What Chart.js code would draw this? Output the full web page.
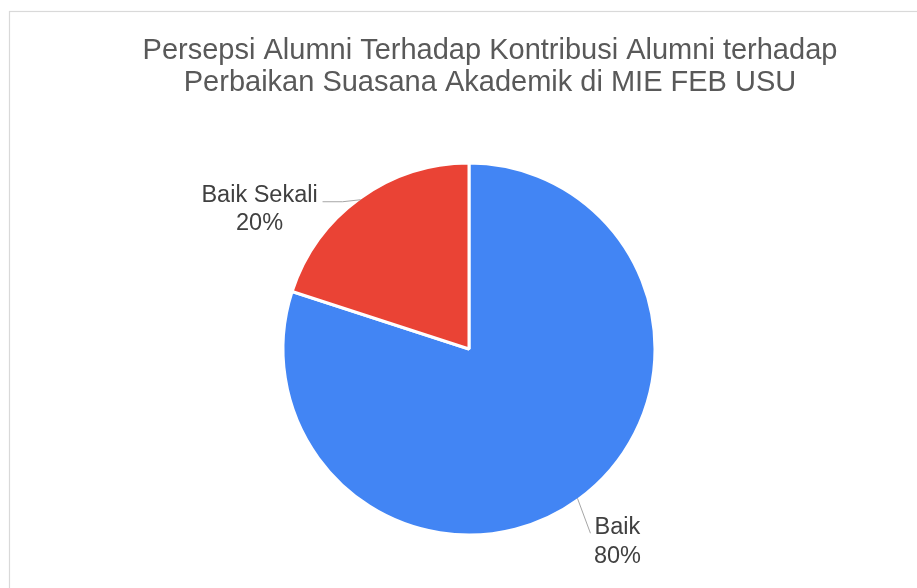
<!DOCTYPE html>
<html>
<head>
<meta charset="utf-8">
<script src="https://cdn.jsdelivr.net/npm/chart.js@4/dist/chart.umd.min.js"></script>
<style>
  html, body { margin: 0; padding: 0; background: #ffffff; }
  #wrap { width: 917px; height: 588px; position: relative; }
</style>
</head>
<body>
<div id="wrap"><canvas id="c" width="917" height="588"></canvas></div>
<script>
const titleLines = ["Persepsi Alumni Terhadap Kontribusi Alumni terhadap", "Perbaikan Suasana Akademik di MIE FEB USU"];
const categories = ["Baik", "Baik Sekali"];
const values = [80, 20];
const colors = ["#4285F4", "#EA4335"];

// label placement styles (offsets relative to the slice's outer mid-point)
const labelStyle = [
  { leader: [[13, 35]], textDx: 40, textDy: 36 },
  { leader: [[-18, 2], [-38, 2]], textDx: -101, textDy: 2 }
];

const frameAndTitle = {
  id: 'frameAndTitle',
  beforeDraw(chart) {
    const ctx = chart.ctx;
    ctx.save();
    ctx.fillStyle = '#ffffff';
    ctx.fillRect(0, 0, chart.width, chart.height);
    ctx.strokeStyle = '#d9d9d9';
    ctx.lineWidth = 1.2;
    ctx.strokeRect(9.5, 11.5, 1200, 1200);
    ctx.restore();
  },
  afterDraw(chart) {
    const ctx = chart.ctx;
    ctx.save();
    ctx.fillStyle = '#595959';
    ctx.font = '29px "Liberation Sans", Arial, sans-serif';
    ctx.textAlign = 'center';
    ctx.textBaseline = 'alphabetic';
    titleLines.forEach((t, i) => ctx.fillText(t, 490, 58.5 + i * 32.5));
    ctx.restore();
  }
};

const pieLabels = {
  id: 'pieLabels',
  afterDatasetsDraw(chart) {
    const ctx = chart.ctx;
    const meta = chart.getDatasetMeta(0);
    const data = chart.data.datasets[0].data;
    const total = data.reduce((a, b) => a + b, 0);
    ctx.save();
    meta.data.forEach((arc, i) => {
      const p = arc.getProps(['x', 'y', 'startAngle', 'endAngle', 'outerRadius'], true);
      const mid = (p.startAngle + p.endAngle) / 2;
      const r = p.outerRadius - 1.5;
      const ax = p.x + Math.cos(mid) * r;
      const ay = p.y + Math.sin(mid) * r;
      const st = labelStyle[i];
      ctx.strokeStyle = '#a6a6a6';
      ctx.lineWidth = 1;
      ctx.beginPath();
      ctx.moveTo(ax, ay);
      st.leader.forEach(([dx, dy]) => ctx.lineTo(ax + dx, ay + dy));
      ctx.stroke();
      ctx.fillStyle = '#404040';
      ctx.font = '23.5px "Liberation Sans", Arial, sans-serif';
      ctx.textAlign = 'center';
      ctx.textBaseline = 'alphabetic';
      const pct = Math.round(data[i] / total * 100) + '%';
      ctx.fillText(chart.data.labels[i], ax + st.textDx, ay + st.textDy);
      ctx.fillText(pct, ax + st.textDx, ay + st.textDy + 28.5);
    });
    ctx.restore();
  }
};

new Chart(document.getElementById('c'), {
  type: 'pie',
  data: {
    labels: categories,
    datasets: [{
      data: values,
      backgroundColor: colors,
      borderColor: '#ffffff',
      borderWidth: 3
    }]
  },
  options: {
    responsive: false,
    devicePixelRatio: 1,
    animation: false,
    radius: 186,
    layout: { padding: { left: 21, right: 0, top: 110, bottom: 0 } },
    plugins: {
      legend: { display: false },
      title: { display: false },
      tooltip: { enabled: false }
    }
  },
  plugins: [frameAndTitle, pieLabels]
});
</script>
</body>
</html>
